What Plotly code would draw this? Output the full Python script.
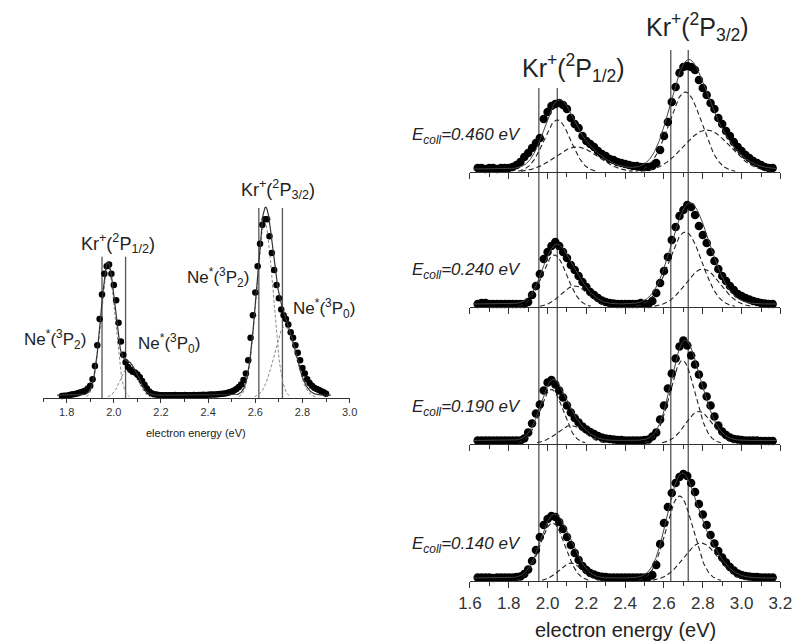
import numpy as np
import plotly.graph_objects as go

# ---------------- data ----------------
# Left panel: single spectrum, x grid 1.78 .. 2.90 step 0.01 (relative intensity)
left_x_start, left_x_step = 1.78, 0.01
left_y = [
    0.010, 0.012, 0.012, 0.015, 0.018, 0.020, 0.022, 0.026, 0.030, 0.035,
    0.040, 0.050, 0.065, 0.100, 0.170, 0.280, 0.420, 0.550, 0.660, 0.700,
    0.710, 0.660, 0.600, 0.520, 0.400, 0.300, 0.230, 0.190, 0.165, 0.150,
    0.140, 0.135, 0.125, 0.110, 0.090, 0.070, 0.050, 0.035, 0.025, 0.020,
    0.018, 0.016, 0.015, 0.015, 0.014, 0.015, 0.014, 0.015, 0.016, 0.015,
    0.014, 0.015, 0.016, 0.015, 0.014, 0.015, 0.016, 0.015, 0.016, 0.016,
    0.017, 0.016, 0.017, 0.018, 0.018, 0.019, 0.020, 0.021, 0.022, 0.024,
    0.026, 0.030, 0.035, 0.040, 0.048, 0.058, 0.072, 0.095, 0.130, 0.200,
    0.320, 0.440, 0.560, 0.700, 0.820, 0.920, 0.950, 0.950, 0.860, 0.770,
    0.680, 0.600, 0.530, 0.470, 0.440, 0.420, 0.390, 0.350, 0.320, 0.280,
    0.240, 0.200, 0.160, 0.130, 0.100, 0.080, 0.065, 0.055, 0.048, 0.042,
    0.036, 0.030, 0.022,
]
# Left fit components: (centre eV, sigma eV, height), plus flat baseline
left_components = [(1.975, 0.030, 0.70), (2.065, 0.035, 0.17),
                   (2.640, 0.035, 0.93), (2.725, 0.045, 0.38)]
left_baseline = 0.015
left_lines = [1.95, 2.05, 2.615, 2.715]

# Right panels: x grid 1.64 .. 3.16 step 0.02
right_x_start, right_x_step = 1.64, 0.02
ecoll_labels = ["0.460", "0.240", "0.190", "0.140"]
y_0460 = [
    0.04, 0.04, 0.03, 0.04, 0.04, 0.03, 0.04, 0.04, 0.04, 0.05,
    0.07, 0.10, 0.15, 0.19, 0.24, 0.29, 0.34, 0.53, 0.60, 0.66,
    0.68, 0.69, 0.67, 0.63, 0.54, 0.48, 0.44, 0.36, 0.31, 0.28,
    0.25, 0.21, 0.18, 0.16, 0.13, 0.12, 0.10, 0.09, 0.08, 0.07,
    0.06, 0.06, 0.05, 0.05, 0.05, 0.06, 0.09, 0.22, 0.36, 0.50,
    0.70, 0.85, 0.99, 1.05, 1.06, 1.05, 1.02, 0.92, 0.84, 0.77,
    0.69, 0.63, 0.54, 0.48, 0.41, 0.36, 0.30, 0.25, 0.21, 0.17,
    0.14, 0.11, 0.09, 0.07, 0.05, 0.04, 0.04,
]
y_0240 = [
    0.03, 0.04, 0.04, 0.03, 0.03, 0.03, 0.03, 0.03, 0.03, 0.03,
    0.03, 0.03, 0.03, 0.05, 0.12, 0.21, 0.33, 0.48, 0.55, 0.61,
    0.65, 0.61, 0.55, 0.49, 0.42, 0.37, 0.31, 0.25, 0.20, 0.15,
    0.12, 0.09, 0.065, 0.05, 0.04, 0.035, 0.03, 0.03, 0.03, 0.03,
    0.03, 0.03, 0.04, 0.03, 0.03, 0.06, 0.14, 0.24, 0.36, 0.50,
    0.67, 0.80, 0.91, 0.97, 1.02, 1.00, 0.92, 0.81, 0.72, 0.64,
    0.55, 0.46, 0.38, 0.31, 0.26, 0.21, 0.17, 0.13, 0.11, 0.09,
    0.075, 0.06, 0.05, 0.04, 0.035, 0.03, 0.03,
]
y_0190 = [
    0.03, 0.03, 0.03, 0.03, 0.03, 0.03, 0.03, 0.03, 0.03, 0.03,
    0.03, 0.03, 0.05, 0.11, 0.20, 0.30, 0.39, 0.53, 0.61, 0.635,
    0.59, 0.53, 0.46, 0.38, 0.31, 0.255, 0.21, 0.17, 0.14, 0.115,
    0.095, 0.075, 0.06, 0.05, 0.045, 0.04, 0.035, 0.035, 0.03, 0.03,
    0.03, 0.03, 0.03, 0.035, 0.04, 0.07, 0.11, 0.24, 0.38, 0.55,
    0.70, 0.85, 0.97, 1.03, 0.98, 0.88, 0.79, 0.69, 0.58, 0.47,
    0.38, 0.27, 0.18, 0.12, 0.085, 0.06, 0.045, 0.04, 0.035, 0.03,
    0.03, 0.03, 0.03, 0.025, 0.025, 0.025, 0.025,
]
y_0140 = [
    0.035, 0.035, 0.035, 0.035, 0.03, 0.035, 0.035, 0.035, 0.035, 0.035,
    0.04, 0.045, 0.07, 0.115, 0.20, 0.31, 0.44, 0.56, 0.62, 0.65,
    0.64, 0.59, 0.52, 0.44, 0.36, 0.28, 0.21, 0.15, 0.11, 0.08,
    0.065, 0.05, 0.043, 0.04, 0.035, 0.035, 0.035, 0.035, 0.035, 0.035,
    0.035, 0.035, 0.035, 0.035, 0.04, 0.06, 0.16, 0.37, 0.58, 0.74,
    0.88, 0.98, 1.04, 1.07, 1.05, 0.98, 0.89, 0.77, 0.665, 0.56,
    0.46, 0.375, 0.30, 0.235, 0.185, 0.14, 0.105, 0.075, 0.06, 0.05,
    0.045, 0.04, 0.04, 0.035, 0.035, 0.035, 0.035,
]
right_series = [y_0460, y_0240, y_0190, y_0140]
# Fit components per panel: (centre eV, sigma eV, height)
right_components = [
    [(2.050, 0.070, 0.52), (2.150, 0.110, 0.25), (2.710, 0.085, 0.80), (2.820, 0.120, 0.42)],
    [(2.035, 0.065, 0.52), (2.140, 0.070, 0.21), (2.710, 0.085, 0.75), (2.800, 0.090, 0.38)],
    [(2.020, 0.060, 0.54), (2.120, 0.070, 0.18), (2.695, 0.065, 0.83), (2.780, 0.070, 0.32)],
    [(2.025, 0.065, 0.58), (2.120, 0.060, 0.18), (2.680, 0.070, 0.85), (2.790, 0.090, 0.38)],
]
right_baseline = 0.03
right_lines = [1.955, 2.05, 2.635, 2.725]

# ---------------- layout helpers ----------------
W, H = 806, 642
def fx(p):
    return p / W
def fy(p):
    return 1 - p / H

FONT = "Liberation Sans, Arial, sans-serif"
AX = "#333333"

def gauss(x, c, s, h):
    return h * np.exp(-0.5 * ((x - c) / s) ** 2)

fig = go.Figure()

# ---------------- left panel ----------------
lx = np.round(left_x_start + left_x_step * np.arange(len(left_y)), 2)
xf_left = np.linspace(1.76, 2.92, 600)
comp_sum = np.full_like(xf_left, left_baseline)
for c, s, h in left_components:
    g = gauss(xf_left, c, s, h)
    comp_sum += g
    gm = np.where(g > 0.006, g, np.nan)
    fig.add_trace(go.Scatter(x=xf_left, y=gm, mode="lines", xaxis="x", yaxis="y",
                             line=dict(color="#888888", width=1, dash="3px,2px"),
                             hoverinfo="skip", cliponaxis=False))
fig.add_trace(go.Scatter(x=lx, y=left_y, mode="markers", xaxis="x", yaxis="y",
                         marker=dict(color="black", size=6.5), cliponaxis=False))
fig.add_trace(go.Scatter(x=xf_left, y=comp_sum, mode="lines", xaxis="x", yaxis="y",
                         line=dict(color="#333333", width=1.2), cliponaxis=False))

# ---------------- right panels ----------------
rx = np.round(right_x_start + right_x_step * np.arange(len(y_0460)), 2)
xf_right = np.linspace(1.62, 3.18, 800)
for i, (ys, comps) in enumerate(zip(right_series, right_components)):
    xa, ya = f"x{i + 2}", f"y{i + 2}"
    total = np.full_like(xf_right, right_baseline)
    fig.add_trace(go.Scatter(x=rx, y=ys, mode="markers", xaxis=xa, yaxis=ya,
                             marker=dict(color="black", size=8.5), cliponaxis=False))
    for c, s, h in comps:
        g = gauss(xf_right, c, s, h)
        total += g
        gm = np.where(g > 0.008, g, np.nan)
        fig.add_trace(go.Scatter(x=xf_right, y=gm, mode="lines", xaxis=xa, yaxis=ya,
                                 line=dict(color="#222222", width=1.1, dash="5px,3px"),
                                 hoverinfo="skip", cliponaxis=False))
    fig.add_trace(go.Scatter(x=xf_right, y=total, mode="lines", xaxis=xa, yaxis=ya,
                             line=dict(color="#444444", width=1), cliponaxis=False))

# axes
layout = dict(width=W, height=H, margin=dict(l=0, r=0, t=0, b=0),
              paper_bgcolor="white", plot_bgcolor="rgba(0,0,0,0)",
              showlegend=False, font=dict(family=FONT, color="#222"))

layout["xaxis"] = dict(domain=[fx(32), fx(348)], range=[1.7, 3.0], anchor="y",
                       showline=True, linecolor=AX, linewidth=1.2, ticks="outside",
                       ticklen=4, tickwidth=1, tickcolor=AX, tick0=1.8, dtick=0.2,
                       tickformat=".1f", tickfont=dict(size=11, color="#333"),
                       showgrid=False, zeroline=False,
                       minor=dict(dtick=0.1, tick0=1.7, ticks="outside", ticklen=3,
                                  tickcolor=AX, showgrid=False))
layout["yaxis"] = dict(domain=[fy(398), fy(191)], range=[0, 1.1], visible=False,
                       anchor="x")

panel_axes_px = [172, 307, 443.5, 581]
for i, axpx in enumerate(panel_axes_px):
    k = i + 2
    last = (i == len(panel_axes_px) - 1)
    layout[f"xaxis{k}"] = dict(domain=[fx(472), fx(792)], range=[1.6, 3.2], anchor=f"y{k}",
                               showline=True, linecolor=AX, linewidth=1.3, ticks="outside",
                               ticklen=6, tickwidth=1.2, tickcolor=AX, tick0=1.6, dtick=0.2,
                               tickformat=".1f", showticklabels=last,
                               tickfont=dict(size=17, color="#333"),
                               showgrid=False, zeroline=False,
                               minor=dict(dtick=0.1, tick0=1.6, ticks="outside", ticklen=4,
                                          tickcolor=AX, showgrid=False))
    layout[f"yaxis{k}"] = dict(domain=[fy(axpx), fy(axpx - 130)], range=[0, 1.3],
                               visible=False, anchor=f"x{k}")

fig.update_layout(**layout)

# vertical reference lines
shapes = []
for v, top in zip(left_lines, [0.75, 0.75, 1.01, 1.01]):
    shapes.append(dict(type="line", xref="x", yref="y", x0=v, x1=v, y0=0, y1=top,
                       line=dict(color="#555555", width=1.3), layer="below"))
for v, toppx in zip(right_lines, [88, 88, 50, 50]):
    shapes.append(dict(type="line", xref="x2", yref="paper", x0=v, x1=v,
                       y0=fy(581), y1=fy(toppx),
                       line=dict(color="#555555", width=1.3), layer="below"))
fig.update_layout(shapes=shapes)

# text annotations
ann = []
def text(x, y, s, size, italic=False):
    ann.append(dict(xref="paper", yref="paper", x=fx(x), y=fy(y), text=s,
                    showarrow=False, xanchor="center", yanchor="middle",
                    font=dict(family=FONT, size=size, color="#222",
                              style="italic" if italic else "normal")))

kr12 = "Kr<sup>+</sup>(<sup>2</sup>P<sub>1/2</sub>)"
kr32 = "Kr<sup>+</sup>(<sup>2</sup>P<sub>3/2</sub>)"
ne32 = "Ne<sup>*</sup>(<sup>3</sup>P<sub>2</sub>)"
ne30 = "Ne<sup>*</sup>(<sup>3</sup>P<sub>0</sub>)"

text(109, 243, kr12, 18)
text(274, 190, kr32, 18)
text(44, 340, ne32, 17)
text(162, 343, ne30, 17)
text(212, 277, ne32, 17)
text(322, 308, ne30, 17)
text(190, 433, "electron energy (eV)", 11)

text(579, 68, kr12, 25)
text(707, 27, kr32, 25)
for lab, axpx in zip(ecoll_labels, panel_axes_px):
    text(468, axpx - 36, f"E<sub>coll</sub>={lab} eV", 17, italic=True)
text(632, 630, "electron energy (eV)", 20)

fig.update_layout(annotations=ann)
fig.write_html(
    "out.html",
    config={"responsive": False, "displayModeBar": False},
    post_script="document.body.style.margin='0';document.body.style.padding='0';"
                "document.documentElement.style.overflow='hidden';",
)
